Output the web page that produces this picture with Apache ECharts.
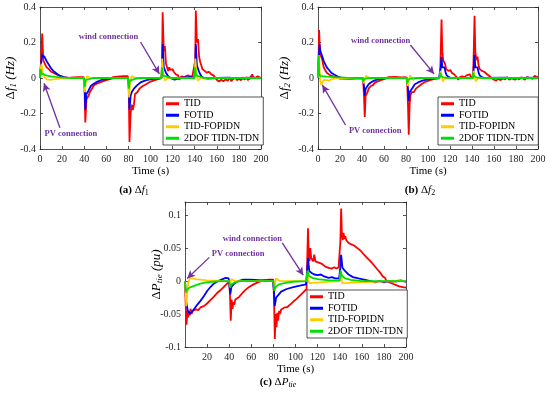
<!DOCTYPE html>
<html><head><meta charset="utf-8">
<script src="https://cdn.jsdelivr.net/npm/echarts@6/dist/echarts.min.js"></script>
<style>html,body{margin:0;padding:0;background:#fff}#c{width:550px;height:394px}</style>
</head><body><div id="c"></div>
<script>
// ---------- DATA ----------
const seriesNames = ['TID', 'FOTID', 'TID-FOPIDN', '2DOF TIDN-TDN'];
const xTicksMax = 200;

// (a) Δf1
const a_TID = [[0,0],[1,0.1],[2,0.25],[3,0.1],[4,0.085],[5,0.08],[6,0.06],[8,0.05],[10,0.035],[12,0.03],[15,0.02],[18,0.012],[22,0.005],[26,0],[30,0.003],[35,0.005],[39.5,0.005],[40.3,-0.05],[41,-0.25],[42,-0.12],[43,-0.13],[44,-0.1],[45,-0.08],[47,-0.06],[49,-0.04],[52,-0.03],[56,-0.02],[60,-0.012],[64,-0.005],[66,0.005],[70,0.008],[75,0.01],[79.5,0.01],[80.3,-0.05],[81,-0.36],[82,-0.2],[83,-0.15],[84,-0.18],[85,-0.15],[86,-0.09],[88,-0.08],[90,-0.06],[93,-0.045],[96,-0.035],[100,-0.02],[104,-0.012],[108,-0.005],[110,0],[110.5,0.1],[111,0.37],[112,0.15],[113,0.18],[114,0.08],[115,0.06],[116,0.04],[117,0.06],[118,0.045],[119,0.04],[120,0.05],[121,0.035],[122,0.04],[123,0.02],[125,0.015],[126,-0.01],[127,-0.005],[128,0.01],[130,0.005],[132,0.01],[133,0.02],[134,0.015],[136,0.008],[138,0.012],[139.5,0.005],[140.5,0.1],[141,0.38],[142,0.2],[143,0.22],[144,0.12],[145,0.09],[146,0.07],[147,0.05],[148,0.06],[149,0.04],[150,0.045],[151,0.03],[153,0.035],[155,0.02],[157,0.015],[158,0.01],[160,-0.01],[162,-0.02],[164,-0.01],[166,-0.018],[168,-0.008],[170,-0.015],[172,0.005],[173,-0.018],[175,-0.005],[177,0.003],[178,-0.012],[180,-0.005],[182,-0.012],[184,0.004],[185,-0.01],[187,0.005],[188,-0.012],[190,-0.003],[192,0.02],[193,0.005],[195,0],[197,0.01],[198,0.005],[200,0]];
const a_FOTID = [[0,0],[1,0.08],[2,0.13],[3,0.135],[4,0.12],[6,0.095],[8,0.075],[10,0.055],[12,0.04],[15,0.025],[18,0.012],[22,0.004],[26,0],[39.5,0],[40.3,-0.03],[41,-0.18],[42,-0.09],[43,-0.08],[44,-0.07],[46,-0.045],[48,-0.035],[52,-0.02],[56,-0.01],[62,-0.003],[68,0],[79.5,0],[80.3,-0.04],[81,-0.18],[82,-0.1],[83,-0.08],[85,-0.06],[88,-0.04],[91,-0.025],[95,-0.015],[100,-0.007],[105,-0.002],[110,0],[110.5,0.05],[111,0.19],[112,0.06],[113,0.07],[114,0.03],[116,0.01],[118,0],[120,-0.005],[122,-0.01],[124,-0.005],[126,0],[130,0.003],[135,0.005],[139.5,0.003],[140.5,0.05],[141,0.19],[142,0.07],[143,0.08],[144,0.035],[146,0.01],[148,0],[152,-0.003],[160,0],[170,0.002],[180,-0.002],[190,0.002],[200,0]];
const a_FOPIDN = [[0,0],[0.7,0.06],[1.4,0.08],[2.5,0.03],[4,0.005],[6,-0.008],[9,-0.01],[14,-0.006],[20,-0.002],[26,0],[39.8,0],[40.5,-0.08],[41.5,-0.02],[42.5,0.01],[44,0.003],[46,0],[79.8,0],[80.6,-0.11],[81.6,-0.03],[83,0.012],[85,0.003],[87,0],[109.8,0],[110.6,0.11],[111.6,0.02],[113,-0.015],[115,-0.003],[117,0],[139.8,0],[140.6,0.11],[141.6,0.02],[143,-0.015],[145,-0.003],[147,0],[200,0]];
const a_2DOF = [[0,0],[0.6,0.05],[1.5,0.025],[3,0.018],[6,0.014],[10,0.009],[16,0.005],[24,0.001],[30,0],[39.8,0],[40.4,-0.05],[41.2,-0.012],[43,-0.004],[48,0],[79.8,0],[80.4,-0.06],[81.2,-0.015],[83,-0.006],[88,-0.001],[92,0],[109.8,0],[110.4,0.06],[111.2,0.015],[113,0.006],[118,0.001],[122,0],[139.8,0],[140.4,0.06],[141.2,0.015],[143,0.006],[148,0.001],[152,0],[200,0]];

// (b) Δf2
const b_TID = [[0,0],[0.5,0.1],[1,0.27],[1.8,0.14],[2.5,0.13],[3.2,0.15],[4,0.1],[5,0.065],[6,0.05],[8,0.03],[10,0.02],[13,0.01],[17,0.002],[20,-0.003],[30,-0.005],[38,-0.002],[41,-0.005],[41.8,-0.1],[42.5,-0.22],[43.3,-0.1],[44,-0.09],[45,-0.08],[46,-0.06],[48,-0.045],[50,-0.04],[52,-0.025],[55,-0.018],[58,-0.01],[62,-0.002],[64,0.005],[70,0.006],[76,0.004],[80,0.005],[81,-0.01],[81.8,-0.15],[82.5,-0.32],[83.3,-0.15],[84,-0.1],[85,-0.08],[86,-0.09],[87,-0.08],[89,-0.06],[91,-0.05],[94,-0.035],[98,-0.02],[102,-0.012],[106,-0.005],[110,-0.002],[111,0.01],[111.6,0.15],[112.3,0.33],[113,0.15],[113.8,0.1],[114.5,0.11],[115.5,0.08],[116.5,0.05],[117.5,0.06],[118.5,0.04],[119.5,0.03],[120.5,0.045],[121.5,0.03],[122.5,0.035],[124,0.02],[125,0.03],[126,0.005],[127.5,-0.01],[129,0.005],[131,0.01],[132,0.02],[133,0.005],[135,0.015],[136,0.005],[138,0.02],[139,0.005],[141,0.01],[141.6,0.15],[142.3,0.35],[143,0.15],[144,0.1],[145,0.12],[146,0.07],[147,0.05],[148,0.06],[149,0.04],[151,0.035],[152,0.025],[154,0.02],[156,0.01],[158,0],[160,-0.01],[162,-0.015],[164,-0.005],[166,-0.012],[168,-0.003],[170,-0.008],[172,0.005],[174,-0.01],[176,-0.002],[177,0.008],[179,-0.01],[181,0],[183,-0.008],[185,0.005],[186,0.012],[188,-0.01],[190,0.005],[191,0.015],[193,0],[195,-0.005],[197,0.012],[199,0.005],[200,0.008]];
const b_FOTID = [[0,0],[0.7,0.1],[1.4,0.19],[2.2,0.15],[3,0.15],[4,0.12],[5,0.1],[6,0.085],[8,0.06],[10,0.045],[12,0.03],[15,0.018],[18,0.008],[22,0],[41,0],[41.8,-0.05],[42.5,-0.1],[43.3,-0.06],[44.5,-0.05],[46,-0.035],[48,-0.025],[51,-0.015],[55,-0.006],[60,0],[81,0],[81.8,-0.06],[82.5,-0.13],[83.3,-0.08],[84.5,-0.07],[86,-0.055],[88,-0.035],[91,-0.025],[95,-0.015],[100,-0.007],[105,-0.002],[110,0],[111,0.005],[111.6,0.06],[112.3,0.12],[113,0.06],[114,0.05],[115,0.06],[116,0.03],[117,0.015],[119,0.005],[121,0],[141,0],[141.6,0.06],[142.3,0.13],[143,0.06],[144,0.05],[145,0.06],[146,0.03],[147,0.015],[149,0.005],[152,0],[170,0.002],[180,-0.002],[190,0.002],[200,0]];
const b_FOPIDN = [[0,0],[0.4,0.08],[0.8,0.13],[1.4,0.05],[2.2,-0.02],[3.2,-0.04],[4.2,-0.025],[5.2,-0.01],[6.5,0],[8,-0.012],[10,-0.015],[12,-0.008],[15,-0.003],[18,0],[40.8,0],[41.6,-0.03],[42.6,-0.005],[43.6,0.012],[45,0.003],[47,0],[80.8,0],[81.6,-0.045],[82.6,-0.01],[83.8,0.015],[85.2,0],[86.3,-0.012],[88,0],[110.8,0],[111.5,0.04],[112.5,0.005],[113.5,-0.018],[115,-0.005],[117,0],[140.8,0],[141.5,0.04],[142.5,0.005],[143.5,-0.018],[145,-0.005],[147,0],[200,0]];
const b_2DOF = [[0,0],[0.3,0.08],[0.6,0.13],[1,0.03],[1.6,0.012],[4,0.01],[8,0.008],[15,0.005],[25,0.002],[35,0],[40.5,0],[41,-0.02],[42,-0.006],[44,-0.002],[48,0],[80.5,0],[81,-0.03],[82,-0.01],[84,-0.004],[90,0],[110.5,0],[111,0.03],[112,0.01],[114,0.004],[120,0],[140.5,0],[141,0.03],[142,0.01],[144,0.004],[150,0],[200,0]];

// (c) ΔPtie
const c_TID = [[0,0],[0.7,-0.04],[1.4,-0.066],[2.1,-0.045],[2.8,-0.055],[3.5,-0.045],[4.3,-0.052],[5,-0.042],[6,-0.05],[7,-0.045],[8.5,-0.048],[10,-0.043],[12,-0.044],[14,-0.04],[17,-0.038],[20,-0.034],[23,-0.029],[26,-0.024],[29,-0.018],[32,-0.014],[35,-0.009],[38,-0.004],[40,-0.001],[40.7,-0.02],[41.4,-0.06],[42.2,-0.028],[43,-0.042],[43.8,-0.032],[44.6,-0.036],[45.5,-0.028],[47,-0.03],[49,-0.024],[52,-0.018],[55,-0.013],[58,-0.009],[62,-0.005],[66,-0.002],[70,0.001],[75,0.002],[80,0.002],[80.6,-0.03],[81.3,-0.088],[82,-0.05],[82.8,-0.07],[83.5,-0.048],[84.3,-0.06],[85.2,-0.045],[86,-0.05],[87,-0.043],[88.5,-0.045],[90,-0.04],[92,-0.04],[95,-0.036],[98,-0.031],[101,-0.027],[104,-0.022],[107,-0.017],[110,-0.012],[110.6,0.03],[111.3,0.08],[112,0.04],[112.7,0.03],[113.4,0.05],[114.2,0.035],[115,0.037],[116,0.03],[117,0.04],[118,0.03],[119.5,0.033],[121,0.028],[122.5,0.03],[124,0.026],[125.5,0.028],[127,0.022],[128.5,0.025],[130,0.02],[131.5,0.023],[133,0.019],[135,0.021],[137,0.019],[139,0.021],[140,0.02],[140.6,0.06],[141.3,0.11],[142,0.07],[142.7,0.062],[143.5,0.073],[144.3,0.064],[145,0.068],[146,0.062],[147,0.064],[148,0.058],[149,0.06],[150,0.056],[151.5,0.058],[153,0.054],[154.5,0.055],[156,0.05],[157.5,0.049],[159,0.046],[160.5,0.044],[162,0.04],[163.5,0.039],[165,0.035],[166.5,0.034],[168,0.03],[169.5,0.028],[171,0.024],[172.5,0.022],[174,0.018],[175.5,0.016],[177,0.012],[178,0.01],[179,0.007],[180,0.004],[181,0.005],[182,0.001],[183.5,0.002],[185,-0.002],[186.5,0],[188,-0.004],[189.5,-0.002],[191,-0.006],[192.5,-0.005],[194,-0.008],[195.5,-0.006],[197,-0.009],[198.5,-0.008],[200,-0.01]];
const c_FOTID = [[0,0],[1,-0.03],[2.5,-0.045],[4.5,-0.05],[6,-0.048],[8,-0.043],[11,-0.036],[14,-0.03],[17,-0.023],[20,-0.015],[23,-0.009],[26,-0.004],[30,0],[34,0.003],[37,0.005],[39.5,0.004],[40.4,-0.01],[41,-0.02],[42,-0.009],[43,-0.011],[44.5,-0.004],[48,0],[52,0.002],[60,0.002],[70,0.001],[79.5,0.001],[80.5,-0.015],[81.2,-0.038],[82.5,-0.025],[84,-0.022],[87,-0.016],[92,-0.012],[98,-0.009],[104,-0.007],[109.5,-0.005],[110.5,0.015],[111.3,0.035],[112.5,0.015],[113.5,0.018],[115,0.012],[117,0.01],[120,0.009],[123,0.01],[126,0.007],[130,0.005],[133,0.006],[136,0.004],[139.5,0.004],[140.5,0.02],[141.3,0.04],[142.5,0.02],[143.5,0.022],[145,0.015],[148,0.01],[152,0.006],[157,0.004],[163,0.002],[168,0],[172,-0.002],[176,0],[180,-0.002],[185,0],[190,-0.001],[195,0.001],[200,-0.001]];
const c_FOPIDN = [[0,0],[0.6,-0.02],[1.2,-0.038],[2,-0.02],[3,-0.002],[4.5,0.004],[7,0.004],[10,0.003],[20,0.001],[40,0],[40.8,-0.004],[42,0.003],[44,0.001],[46,0],[80,0],[80.8,-0.012],[82.3,0.004],[84,0.001],[86,0],[110,0],[110.8,0.012],[112.3,-0.003],[114,0],[140,0],[140.8,0.012],[142.3,-0.003],[144,0],[188,0],[190,-0.002],[192,0.001],[200,0]];
const c_2DOF = [[0,0],[0.5,-0.01],[1,-0.017],[2,-0.013],[4,-0.01],[7,-0.008],[10,-0.006],[14,-0.004],[19,-0.002],[25,-0.001],[32,0],[40,0],[40.8,-0.01],[42,-0.005],[45,-0.002],[50,0],[80,0],[80.8,-0.015],[82,-0.009],[85,-0.005],[90,-0.003],[97,-0.001],[110,0],[110.8,0.016],[112,0.008],[115,0.005],[120,0.003],[130,0.001],[140,0.001],[140.8,0.016],[142,0.008],[145,0.004],[150,0.002],[160,0],[200,0]];

// ---------- STYLE / LAYOUT ----------
const SERIF = 'Liberation Serif';
const AXC = '#262626';
const PURPLE = '#7030a0';
const colors = ['#ff0000', '#0000ff', '#ffcc00', '#00e000'];

const panels = [
  { grid: {left: 39, top: 7, width: 222, height: 142}, ymin: -0.4, ymax: 0.4, yint: 0.2,
    data: [a_TID, a_FOTID, a_FOPIDN, a_2DOF], yname: '{d|Δ}{i|f}{s|1}{i| (Hz)}', nameGap: 22,
    legend: {left: 163, top: 97}, showMinX: true,
    wind: {text: [62, 0.231], from: [91, 0.203], to: [108, 0.023]},
    pv: {text: [28, -0.315], from: [18, -0.28], to: [3.6, -0.03]} },
  { grid: {left: 318, top: 7, width: 220, height: 142}, ymin: -0.4, ymax: 0.4, yint: 0.2,
    data: [b_TID, b_FOTID, b_FOPIDN, b_2DOF], yname: '{d|Δ}{i|f}{s|2}{i| (Hz)}', nameGap: 26,
    legend: {left: 438, top: 97}, showMinX: true,
    wind: {text: [57, 0.208], from: [84, 0.186], to: [105.5, 0.023]},
    pv: {text: [52, -0.30], from: [25, -0.265], to: [4, -0.04]} },
  { grid: {left: 185, top: 202, width: 221, height: 145}, ymin: -0.1, ymax: 0.12, yint: 0.05,
    data: [c_TID, c_FOTID, c_FOPIDN, c_2DOF], yname: '{d|Δ}{i|P}{s|tie}{i| (pu)}', nameGap: 21,
    legend: {left: 307, top: 290}, showMinX: false,
    wind: {text: [61, 0.064], from: [88, 0.058], to: [107, 0.009]},
    pv: {text: [48, 0.041], from: [22, 0.036], to: [2, 0.004]} }
];

const nameRich = {
  d: {fontFamily: SERIF, fontSize: 13, color: '#000', lineHeight: 14, verticalAlign: 'top'},
  i: {fontFamily: SERIF, fontSize: 13, fontStyle: 'italic', color: '#000', lineHeight: 14, verticalAlign: 'top'},
  s: {fontFamily: SERIF, fontSize: 9, fontStyle: 'italic', color: '#000', lineHeight: 9, verticalAlign: 'bottom', padding: [8, 0, 0, 0]}
};

const grids = [], xAxes = [], yAxes = [], series = [], legends = [];
panels.forEach((p, k) => {
  grids.push(Object.assign({containLabel: false}, p.grid));
  const common = {gridIndex: k, axisLine: {show: true, onZero: false, lineStyle: {color: AXC, width: 0.8}},
    axisTick: {show: true, inside: true, length: 3, lineStyle: {color: AXC, width: 0.8}}, splitLine: {show: false}};
  xAxes.push(Object.assign({}, common, {type: 'value', position: 'bottom', min: 0, max: xTicksMax, interval: 20,
    axisLabel: {fontFamily: SERIF, fontSize: 10, color: AXC, margin: 5, showMinLabel: p.showMinX},
    name: 'Time (s)', nameLocation: 'middle', nameGap: 17, nameMoveOverlap: false, nameTextStyle: {fontFamily: SERIF, fontSize: 11, color: '#000'}}));
  xAxes.push(Object.assign({}, common, {type: 'value', position: 'top', min: 0, max: xTicksMax, interval: 20, axisLabel: {show: false}}));
  yAxes.push(Object.assign({}, common, {type: 'value', position: 'left', min: p.ymin, max: p.ymax, interval: p.yint,
    axisLabel: {fontFamily: SERIF, fontSize: 10, color: AXC, margin: 4, showMaxLabel: p.ymax === 0.4},
    name: p.yname, nameLocation: 'middle', nameGap: p.nameGap, nameRotate: 90, nameMoveOverlap: false, nameTextStyle: {rich: nameRich}}));
  yAxes.push(Object.assign({}, common, {type: 'value', position: 'right', min: p.ymin, max: p.ymax, interval: p.yint, axisLabel: {show: false}}));
  p.data.forEach((d, j) => {
    const s = {type: 'line', name: seriesNames[j], xAxisIndex: 2 * k, yAxisIndex: 2 * k, data: d,
      showSymbol: false, symbol: 'none', lineStyle: {width: 1.8, color: colors[j]}, itemStyle: {color: colors[j]},
      z: 2 + j, animation: false};
    if (j === 3) {
      s.markLine = {silent: true, symbol: ['none', 'arrow'], symbolSize: [6, 8], animation: false,
        lineStyle: {color: PURPLE, width: 1.3, type: 'solid'}, label: {show: false},
        data: [[{coord: p.wind.from}, {coord: p.wind.to}], [{coord: p.pv.from}, {coord: p.pv.to}]]};
      s.markPoint = {silent: true, symbol: 'circle', symbolSize: 1, animation: false, itemStyle: {color: 'rgba(0,0,0,0)'},
        label: {show: true, position: 'inside', formatter: (q) => q.name, fontFamily: SERIF, fontSize: 8.5, fontWeight: 'bold', color: PURPLE},
        data: [{name: 'wind connection', coord: p.wind.text}, {name: 'PV connection', coord: p.pv.text}]};
    }
    series.push(s);
  });
  legends.push({left: p.legend.left, top: p.legend.top, orient: 'vertical', data: seriesNames, icon: 'rect',
    itemWidth: 13, itemHeight: 3, itemGap: 0, padding: [1, 4, 1, 3], selectedMode: false,
    borderColor: AXC, borderWidth: 0.8, backgroundColor: '#fff', z: 10,
    textStyle: {fontFamily: SERIF, fontSize: 10, color: '#000', lineHeight: 11.5}});
});

const capRich = {
  b: {fontFamily: SERIF, fontSize: 11, fontWeight: 'bold', color: '#000'},
  n: {fontFamily: SERIF, fontSize: 11, color: '#000'},
  i: {fontFamily: SERIF, fontSize: 11, fontStyle: 'italic', color: '#000'},
  s: {fontFamily: SERIF, fontSize: 8, fontStyle: 'italic', color: '#000', padding: [5, 0, 0, 0]},
  s1: {fontFamily: SERIF, fontSize: 8, color: '#000', padding: [5, 0, 0, 0]}
};
const captions = [
  {x: 134, y: 190, t: '{b|(a)}{n| Δ}{i|f}{s1|1}'},
  {x: 420, y: 190, t: '{b|(b)}{n| Δ}{i|f}{s1|2}'},
  {x: 278, y: 382, t: '{b|(c)}{n| Δ}{i|P}{s|tie}'}
];

const chart = echarts.init(document.getElementById('c'), null, {renderer: 'canvas'});
chart.setOption({
  animation: false,
  backgroundColor: '#fff',
  grid: grids, xAxis: xAxes, yAxis: yAxes, series: series, legend: legends,
  graphic: captions.map(c => ({type: 'text', x: c.x, y: c.y, style: {text: c.t, rich: capRich, align: 'center', verticalAlign: 'middle'}, z: 20}))
});
</script></body></html>
